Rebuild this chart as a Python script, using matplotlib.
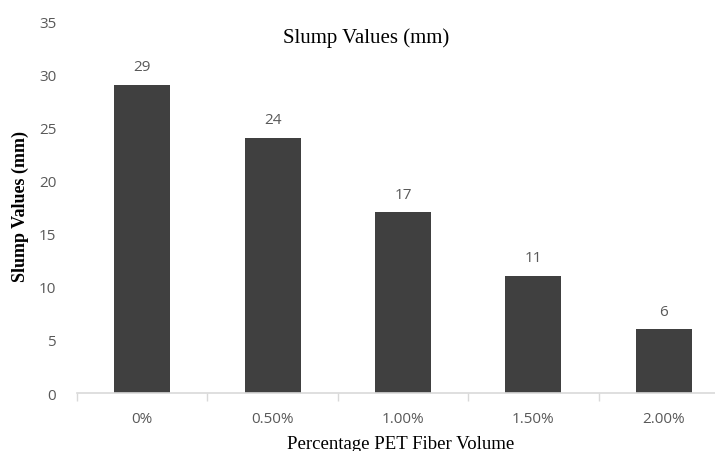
import matplotlib.pyplot as plt
import numpy as np

categories = ["0%", "0.50%", "1.00%", "1.50%", "2.00%"]
slump = [29, 24, 17, 11, 6]

bar_color = "#404040"
tick_color = "#595959"
axis_color = "#d9d9d9"

fig = plt.figure(figsize=(7.15, 4.52), dpi=100)
# axes extend slightly past the right edge, as in the cropped original
ax = fig.add_axes([0.1077, 0.1283, 0.9119, 0.823])

x = np.arange(len(categories))
bars = ax.bar(x, slump, width=0.43, color=bar_color, zorder=2)
for b, v in zip(bars, slump):
    ax.text(b.get_x() + b.get_width() / 2, v + 1.0, f"{v}", ha="center",
            va="bottom", fontsize=11, color=tick_color, family="Open Sans")

ax.set_xlim(-0.5, len(categories) - 0.5)
ax.set_ylim(0, 35)
ax.set_yticks(np.arange(0, 36, 5))
ax.set_xticks(x)
ax.set_xticklabels(categories)
ax.set_xticks(np.arange(-0.5, len(categories), 1), minor=True)

for s in ["top", "right", "left"]:
    ax.spines[s].set_visible(False)
ax.spines["bottom"].set_color(axis_color)
ax.spines["bottom"].set_linewidth(1.2)

ax.tick_params(axis="y", length=0, pad=15, labelsize=11, labelcolor=tick_color)
ax.tick_params(axis="x", which="major", length=0, pad=13, labelsize=11,
               labelcolor=tick_color)
ax.tick_params(axis="x", which="minor", length=6, color=axis_color, width=1)
for lab in ax.get_xticklabels() + ax.get_yticklabels():
    lab.set_family("Open Sans")

fig.text(0.512, 1 - 38 / 452, "Slump Values (mm)", family="Liberation Serif",
         fontsize=15, ha="center", va="center")
fig.text(0.028, 1 - 207 / 452, "Slump Values (mm)", family="Liberation Serif",
         fontsize=13, fontweight="bold", rotation=90, ha="center", va="center")
fig.text(0.561, 3 / 452, "Percentage PET Fiber Volume",
         family="Liberation Serif", fontsize=13.5, ha="center", va="baseline")

fig.savefig("out.png", dpi=100)
